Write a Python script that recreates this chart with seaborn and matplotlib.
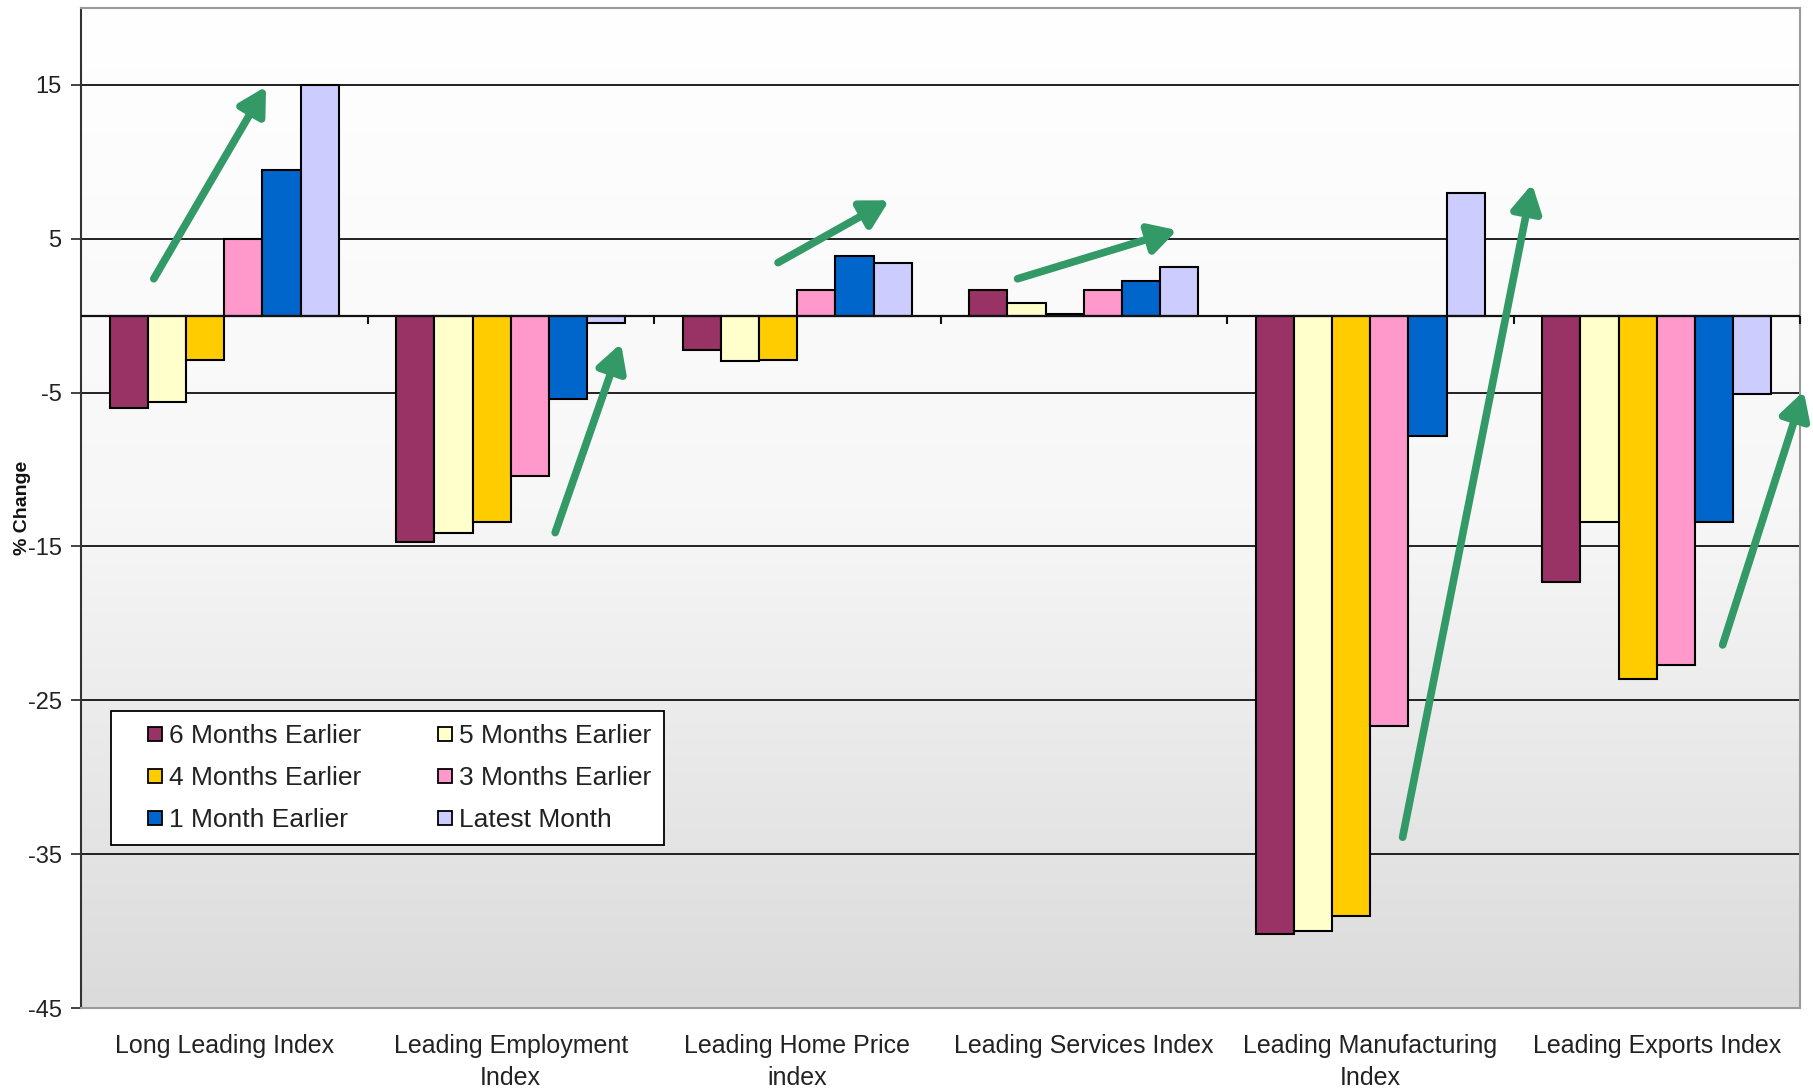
import numpy as np
import pandas as pd
import matplotlib
matplotlib.use("Agg")
import matplotlib.pyplot as plt
import seaborn as sns
from matplotlib.patches import Patch, Rectangle
from matplotlib.legend_handler import HandlerPatch
from matplotlib.colors import LinearSegmentedColormap

# ---------------- data ----------------
categories = ["Long Leading Index", "Leading Employment\nIndex", "Leading Home Price\nindex",
              "Leading Services Index", "Leading Manufacturing\nIndex", "Leading Exports Index"]
periods = ["6 Months Earlier", "5 Months Earlier", "4 Months Earlier",
           "3 Months Earlier", "1 Month Earlier", "Latest Month"]
six_months = [-6.0, -14.7, -2.2, 1.7, -40.2, -17.3]
five_months = [-5.6, -14.1, -2.95, 0.8, -40.0, -13.4]
four_months = [-2.9, -13.4, -2.85, 0.1, -39.0, -23.6]
three_months = [5.0, -10.4, 1.65, 1.65, -26.7, -22.7]
one_month = [9.5, -5.4, 3.85, 2.25, -7.8, -13.4]
latest_month = [15.0, -0.45, 3.4, 3.15, 8.0, -5.1]
colors = ["#993366", "#FFFFCC", "#FFCC00", "#FF99CC", "#0066CC", "#CCCCFF"]
y_ticks = [-45, -35, -25, -15, -5, 5, 15]
# trend arrows (annotation): (x0, y0, x1, y1) in data units
arrows = [(-0.246, 2.4, 0.146, 14.9),
          (1.155, -14.1, 1.385, -1.8),
          (1.933, 3.45, 2.321, 7.5),
          (2.769, 2.4, 3.326, 5.56),
          (4.113, -33.9, 4.565, 8.56),
          (5.230, -21.4, 5.513, -4.9)]

series = [six_months, five_months, four_months, three_months, one_month, latest_month]
rows = []
for p, vals in zip(periods, series):
    for c, v in zip(categories, vals):
        rows.append({"category": c, "period": p, "value": v})
df = pd.DataFrame(rows)

# ---------------- style ----------------
sns.set_style("white")
plt.rcParams["font.family"] = ["Liberation Sans", "DejaVu Sans"]

fig = plt.figure(figsize=(18.13, 10.88), dpi=100)
ax = fig.add_axes([81 / 1813, 1 - 1008 / 1088, (1800 - 81) / 1813, 1000 / 1088])

# gradient background
grad = np.linspace(0, 1, 256).reshape(-1, 1)
cmap = LinearSegmentedColormap.from_list("bg", ["#FFFFFF", "#F7F7F7", "#DBDBDB"])
ax.imshow(grad, extent=[0, 1, 0, 1], transform=ax.transAxes, aspect="auto",
          cmap=cmap, origin="upper", zorder=0)

sns.barplot(data=df, x="category", y="value", hue="period", order=categories,
            hue_order=periods, palette=colors, saturation=1, width=0.8,
            edgecolor="black", linewidth=1.5, errorbar=None, ax=ax, zorder=3)

ax.set_xlim(-0.5, 5.5)
ax.set_ylim(-45, 20)
ax.set_yticks(y_ticks)
ax.set_yticklabels([str(t) for t in y_ticks], fontsize=17, color="#222222")
for t in y_ticks:
    ax.axhline(t, color="#111111", lw=1.3, zorder=1)
ax.axhline(0, color="#111111", lw=1.6, zorder=4)
# category boundary ticks on the zero line
ax.vlines(np.arange(0.5, 5.6, 1.0), -0.55, 0, color="#111111", lw=1.5, zorder=4, clip_on=False)

ax.tick_params(axis="y", direction="out", length=7, width=1.2, pad=7, left=True, color="#222222")
ax.tick_params(axis="x", length=0, pad=19, labelsize=18, colors="#222222")
for lab in ax.get_xticklabels():
    lab.set_linespacing(1.4)
ax.set_xlabel("")
ax.set_ylabel("% Change", fontsize=14, fontweight="bold", color="#111111")
ax.yaxis.set_label_coords(-0.029, 0.5)

for side in ["top", "right", "bottom"]:
    ax.spines[side].set_color("#9a9a9a")
    ax.spines[side].set_linewidth(1.5)
ax.spines["left"].set_color("#333333")
ax.spines["left"].set_linewidth(1.5)

# arrows
for x0, y0, x1, y1 in arrows:
    ax.annotate("", xy=(x1, y1), xytext=(x0, y0), zorder=6, annotation_clip=False,
                arrowprops=dict(arrowstyle="-|>,head_length=0.45,head_width=0.25",
                                lw=5.5, color="#339966", mutation_scale=36,
                                shrinkA=0, shrinkB=0))


class RightSquare(HandlerPatch):
    def create_artists(self, legend, orig_handle, xdescent, ydescent, width, height,
                       fontsize, trans):
        s = 0.53 * fontsize
        y = -ydescent + (height - s) / 2
        p = Rectangle((-xdescent + width - s, y), s, s)
        self.update_prop(p, orig_handle, legend)
        p.set_transform(trans)
        return [p]


leg = ax.get_legend()
if leg is not None:
    leg.remove()
order = [0, 2, 4, 1, 3, 5]
handles = [Patch(facecolor=colors[i], edgecolor="black", lw=1.3) for i in order]
labels = [periods[i] for i in order]
lg = ax.legend(handles, labels, ncol=2, loc="upper left",
               bbox_to_anchor=((111 - 81) / 1719, (1008 - 711) / 1000),
               fontsize=19, frameon=True, fancybox=False, framealpha=1,
               edgecolor="black", handlelength=1.43, handleheight=0.7,
               handletextpad=0.27, labelspacing=0.68, columnspacing=2.0,
               borderpad=0.5, borderaxespad=0,
               handler_map={Patch: RightSquare()})
lg.get_frame().set_linewidth(1.3)
lg.set_zorder(7)
for t in lg.get_texts():
    t.set_color("#222222")

fig.savefig("out.png", dpi=100)
